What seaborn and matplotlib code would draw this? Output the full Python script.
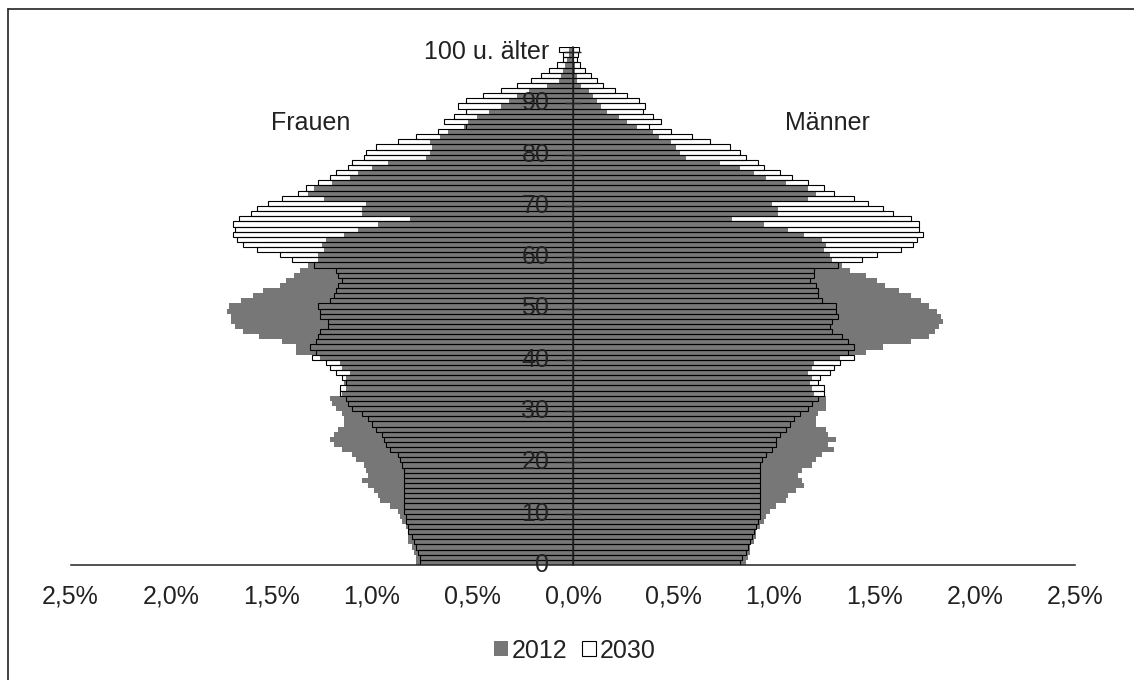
import numpy as np
import matplotlib.pyplot as plt
import seaborn as sns
from matplotlib.patches import Patch
from matplotlib.lines import Line2D

# Ages 0 .. 100 (100 = "100 u. älter")
ages = np.arange(0, 101)

# Share of total population in % (index = age)
frauen_2012 = [
    0.78, 0.78, 0.79, 0.80, 0.82, 0.82, 0.82, 0.83, 0.85, 0.86,
    0.87, 0.91, 0.96, 0.97, 0.99, 1.02, 1.05, 1.02, 1.03, 1.04,
    1.08, 1.10, 1.15, 1.19, 1.21, 1.19, 1.17, 1.14, 1.14, 1.15,
    1.18, 1.20, 1.21, 1.15, 1.13, 1.14, 1.13, 1.11, 1.15, 1.16,
    1.26, 1.38, 1.38, 1.45, 1.56, 1.64, 1.68, 1.70, 1.70, 1.72,
    1.71, 1.65, 1.59, 1.54, 1.46, 1.43, 1.39, 1.36, 1.32, 1.27,
    1.27, 1.24, 1.25, 1.23, 1.14, 1.07, 0.97, 0.81, 1.05, 1.05,
    1.03, 1.24, 1.32, 1.29, 1.20, 1.11, 1.07, 1.00, 0.92, 0.73,
    0.71, 0.70, 0.71, 0.66, 0.62, 0.54, 0.52, 0.48, 0.42, 0.36,
    0.32, 0.28, 0.22, 0.13, 0.07, 0.06, 0.05, 0.04, 0.03, 0.02,
    0.02,
]
frauen_2030 = [
    0.76, 0.76, 0.77, 0.78, 0.79, 0.80, 0.82, 0.82, 0.83, 0.83,
    0.84, 0.84, 0.84, 0.84, 0.84, 0.84, 0.84, 0.84, 0.84, 0.85,
    0.86, 0.87, 0.91, 0.93, 0.94, 0.95, 0.98, 1.00, 1.02, 1.05,
    1.10, 1.12, 1.13, 1.16, 1.16, 1.13, 1.15, 1.18, 1.21, 1.23,
    1.30, 1.28, 1.31, 1.28, 1.27, 1.26, 1.22, 1.22, 1.26, 1.26,
    1.27, 1.21, 1.19, 1.18, 1.17, 1.15, 1.17, 1.18, 1.29, 1.40,
    1.46, 1.57, 1.64, 1.67, 1.69, 1.68, 1.69, 1.66, 1.60, 1.57,
    1.52, 1.45, 1.37, 1.33, 1.27, 1.21, 1.18, 1.12, 1.10, 1.04,
    1.03, 0.98, 0.87, 0.78, 0.67, 0.53, 0.64, 0.59, 0.53, 0.57,
    0.53, 0.45, 0.36, 0.28, 0.21, 0.16, 0.12, 0.08, 0.05, 0.05,
    0.07,
]
maenner_2012 = [
    0.86, 0.87, 0.88, 0.88, 0.90, 0.91, 0.91, 0.93, 0.95, 0.96,
    0.98, 1.01, 1.06, 1.07, 1.11, 1.15, 1.14, 1.12, 1.14, 1.19,
    1.21, 1.24, 1.30, 1.27, 1.31, 1.27, 1.26, 1.21, 1.21, 1.22,
    1.26, 1.26, 1.26, 1.20, 1.19, 1.18, 1.19, 1.17, 1.19, 1.20,
    1.33, 1.46, 1.54, 1.68, 1.77, 1.80, 1.82, 1.84, 1.83, 1.81,
    1.77, 1.73, 1.68, 1.62, 1.55, 1.51, 1.46, 1.38, 1.34, 1.29,
    1.28, 1.25, 1.26, 1.24, 1.15, 1.07, 0.95, 0.79, 1.02, 1.02,
    0.99, 1.17, 1.21, 1.17, 1.06, 0.96, 0.90, 0.83, 0.73, 0.56,
    0.53, 0.51, 0.49, 0.43, 0.40, 0.32, 0.27, 0.23, 0.17, 0.14,
    0.12, 0.10, 0.08, 0.04, 0.02, 0.02, 0.01, 0.01, 0.005, 0.004,
    0.004,
]
maenner_2030 = [
    0.83, 0.84, 0.86, 0.87, 0.88, 0.89, 0.90, 0.91, 0.92, 0.93,
    0.93, 0.93, 0.93, 0.93, 0.93, 0.93, 0.93, 0.93, 0.93, 0.93,
    0.94, 0.96, 0.99, 1.01, 1.01, 1.03, 1.06, 1.08, 1.10, 1.13,
    1.17, 1.19, 1.22, 1.25, 1.25, 1.22, 1.23, 1.28, 1.30, 1.33,
    1.40, 1.37, 1.40, 1.37, 1.34, 1.29, 1.28, 1.29, 1.32, 1.31,
    1.31, 1.24, 1.22, 1.22, 1.21, 1.18, 1.20, 1.20, 1.32, 1.44,
    1.51, 1.63, 1.69, 1.71, 1.74, 1.72, 1.72, 1.68, 1.59, 1.54,
    1.47, 1.40, 1.30, 1.25, 1.17, 1.09, 1.03, 0.95, 0.92, 0.86,
    0.83, 0.78, 0.68, 0.59, 0.49, 0.38, 0.44, 0.40, 0.35, 0.36,
    0.33, 0.27, 0.21, 0.15, 0.12, 0.09, 0.06, 0.035, 0.02, 0.025,
    0.03,
]

x_ticks = [-2.5, -2.0, -1.5, -1.0, -0.5, 0.0, 0.5, 1.0, 1.5, 2.0, 2.5]
x_labels = ['2,5%', '2,0%', '1,5%', '1,0%', '0,5%', '0,0%',
            '0,5%', '1,0%', '1,5%', '2,0%', '2,5%']
y_ticks = [0, 10, 20, 30, 40, 50, 60, 70, 80, 90, 100]
y_labels = ['0', '10', '20', '30', '40', '50', '60', '70', '80', '90', '100 u. älter']

gray = '#777777'
ink = '#222222'

sns.set_style('white')
plt.rcParams['font.family'] = ['Liberation Sans', 'DejaVu Sans']
plt.rcParams['text.color'] = ink
plt.rcParams['xtick.color'] = ink
plt.rcParams['ytick.color'] = ink
plt.rcParams['axes.axisbelow'] = False

fig = plt.figure(figsize=(11.34, 6.8), dpi=100)
ax = fig.add_axes([0.0622, 0.1691, 0.8862, 0.7618])
ax.set_axisbelow(False)

# 2012 as gray filled bars, 2030 as black outlines on top
sns.barplot(x=-np.array(frauen_2012), y=ages, orient='y', native_scale=True,
            color=gray, saturation=1, width=1.0, linewidth=0,
            errorbar=None, ax=ax)
sns.barplot(x=np.array(maenner_2012), y=ages, orient='y', native_scale=True,
            color=gray, saturation=1, width=1.0, linewidth=0,
            errorbar=None, ax=ax)
sns.barplot(x=-np.array(frauen_2030), y=ages, orient='y', native_scale=True,
            color='black', saturation=1, width=1.0, fill=False, linewidth=0.8,
            errorbar=None, ax=ax)
sns.barplot(x=np.array(maenner_2030), y=ages, orient='y', native_scale=True,
            color='black', saturation=1, width=1.0, fill=False, linewidth=0.8,
            errorbar=None, ax=ax)

ax.set_xlim(-2.5, 2.5)
ax.set_ylim(-0.5, 100.5)
ax.set_xlabel('')
ax.set_ylabel('')

# Axes: bottom line and a centre line at 0
ax.spines['top'].set_visible(False)
ax.spines['right'].set_visible(False)
ax.spines['left'].set_position(('data', 0))
ax.spines['left'].set_color(ink)
ax.spines['bottom'].set_color(ink)
ax.spines['left'].set_linewidth(1.1)
ax.spines['bottom'].set_linewidth(1.1)
ax.spines['left'].set_zorder(5)
ax.spines['bottom'].set_zorder(5)

ax.set_xticks(x_ticks)
ax.set_xticklabels(x_labels)
ax.tick_params(axis='x', direction='in', length=5, width=1, pad=14, labelsize=18)

ax.set_yticks(y_ticks)
ax.set_yticklabels(y_labels)
ax.tick_params(axis='y', which='major', length=0, pad=17, labelsize=18)
ax.set_yticks([9.5, 19.5, 29.5, 39.5, 49.5, 59.5, 69.5, 79.5, 89.5, 99.5], minor=True)
ax.tick_params(axis='y', which='minor', direction='inout', length=11, width=1, left=True)

fig.text(311 / 1134, 1 - 123 / 680, 'Frauen', ha='center', va='center', fontsize=18)
fig.text(827 / 1134, 1 - 123 / 680, 'Männer', ha='center', va='center', fontsize=18)

handles = [Patch(facecolor=gray, edgecolor='none'),
           Patch(facecolor='white', edgecolor='black', linewidth=0.8)]
fig.legend(handles, ['2012', '2030'], loc='center', bbox_to_anchor=(0.507, 0.043),
           ncol=2, frameon=False, fontsize=18, handlelength=0.55, handleheight=0.55,
           handletextpad=0.15, columnspacing=0.6)

# Chart frame (left and top edge)
fig.add_artist(Line2D([8 / 1134, 8 / 1134], [0, 1 - 9 / 680], color=ink, lw=1.2))
fig.add_artist(Line2D([8 / 1134, 1], [1 - 9 / 680, 1 - 9 / 680], color=ink, lw=1.2))

fig.savefig('out.png', dpi=100)
